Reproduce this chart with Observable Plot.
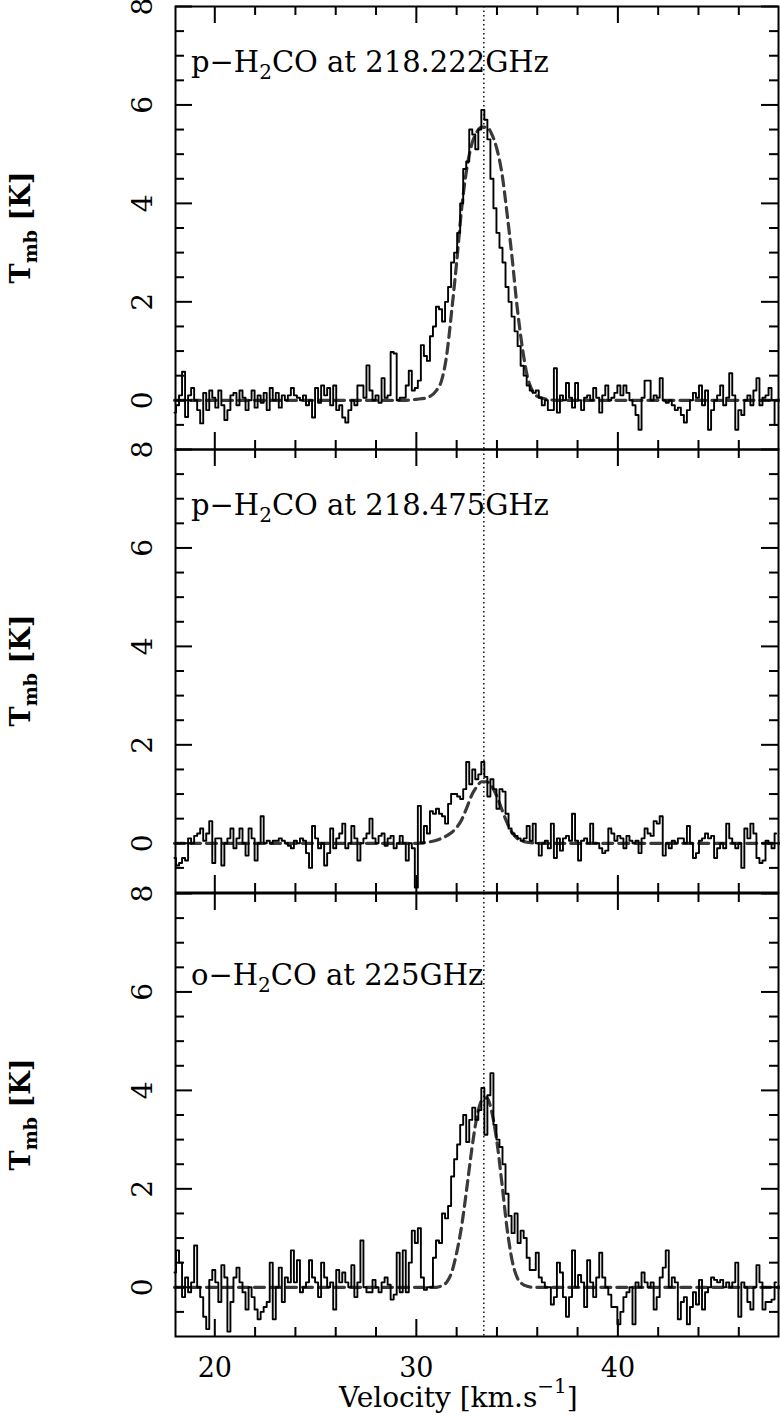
<!DOCTYPE html>
<html><head><meta charset="utf-8">
<script src="https://cdn.jsdelivr.net/npm/d3@7"></script>
<script src="https://cdn.jsdelivr.net/npm/@observablehq/plot@0.6"></script>
<style>
body{margin:0;background:#fff;}
#chart{position:relative;width:780px;height:1419px;overflow:hidden;background:#fff;}
#chart svg{position:absolute;left:0;}
</style></head><body><div id="chart"></div>
<script>
// ---------- data ----------
const V0 = 18.0, DV = 0.15;   // first channel velocity and channel width (km/s)
const vLSR = 33.35;

const spec1 = [
 -0.25,-0.1,0.1,0.58,-0.34,0.1,0.25,0.0,-0.2,-0.47,
 0.15,-0.2,0.2,0.05,-0.15,0.2,-0.1,-0.4,-0.2,0.1,
 0.15,-0.1,0.2,0.05,-0.2,0.0,0.2,-0.15,0.1,-0.05,
 0.15,-0.2,0.25,0.0,0.15,-0.15,0.1,0.0,0.1,0.25,
 0.1,0.05,0.0,0.1,-0.1,0.0,-0.35,0.25,-0.05,0.3,
 0.1,0.25,-0.1,0.3,-0.2,-0.1,-0.35,-0.45,-0.2,0.0,
 -0.1,0.3,0.3,0.05,0.71,0.2,0.0,0.1,-0.05,0.45,
 0.05,0.1,0.98,0.95,0.0,0.05,0.05,0.3,0.6,0.2,
 0.25,0.4,1.12,0.9,0.8,1.3,1.5,1.9,1.85,1.6,
 2.0,2.3,2.8,3.0,3.4,4.0,4.7,4.85,5.5,5.4,
 5.1,5.5,5.9,5.7,5.3,4.5,3.9,3.4,3.1,2.8,
 2.3,2.0,1.7,1.4,1.1,0.7,0.5,0.3,0.2,0.15,
 0.2,0.05,-0.1,0.0,-0.2,-0.2,0.65,-0.25,0.1,0.0,
 0.35,0.05,-0.15,0.35,0.0,-0.2,0.05,0.1,0.0,0.25,
 0.05,-0.25,0.1,0.3,0.0,0.05,0.15,0.3,0.1,0.3,
 0.15,0.0,-0.1,-0.3,-0.6,0.05,0.4,0.4,0.0,0.1,
 0.05,0.45,0.0,-0.05,0.0,-0.1,-0.2,-0.15,-0.3,-0.45,
 -0.2,0.0,0.15,0.05,0.3,-0.1,0.2,-0.6,-0.2,0.0,
 0.1,0.3,-0.1,0.05,0.55,0.1,-0.6,-0.2,-0.3,0.0,
 0.1,-0.1,0.2,0.45,-0.1,0.05,0.1,0.25,0.0,-0.5
];
const spec2 = [
 -0.3,-0.45,-0.4,-0.3,-0.35,0.1,0.0,0.15,0.2,0.3,
 0.05,0.2,0.45,-0.4,0.1,0.1,-0.45,0.0,0.1,0.3,
 -0.1,0.1,0.3,0.0,-0.25,0.3,0.1,-0.35,0.0,0.55,
 0.0,0.05,0.0,0.05,0.05,0.1,0.05,0.0,-0.05,-0.1,
 0.05,0.0,0.1,0.05,-0.2,-0.5,0.35,0.1,-0.1,0.0,
 -0.45,-0.2,0.3,-0.1,0.1,0.2,0.4,-0.1,0.0,0.35,
 0.1,-0.35,0.0,0.1,0.2,0.5,0.1,0.0,0.15,0.2,
 -0.05,0.1,0.15,-0.1,0.0,0.15,0.0,-0.35,0.0,-0.1,
 -0.9,0.76,0.0,0.35,0.2,0.65,0.6,0.7,0.6,0.55,
 0.4,0.8,1.0,1.0,0.95,0.9,1.1,1.65,1.2,1.5,
 1.3,1.4,1.65,1.35,0.95,1.3,1.1,0.7,1.1,1.05,
 0.6,0.3,0.2,0.15,0.1,0.05,0.1,0.35,0.05,0.4,
 0.0,-0.25,0.0,0.05,-0.1,0.4,-0.3,0.1,-0.15,0.1,
 0.15,0.05,0.6,0.05,-0.35,0.05,0.1,0.0,0.4,0.0,
 0.0,-0.1,-0.2,-0.15,0.3,0.2,0.05,0.15,0.1,-0.1,
 0.15,0.05,0.0,0.05,-0.2,0.1,0.3,0.2,0.15,0.45,
 0.4,0.55,-0.25,0.0,-0.1,0.05,0.0,0.1,0.1,0.0,
 0.35,0.0,-0.3,-0.2,0.05,0.1,0.2,0.1,0.15,-0.3,
 -0.1,0.0,-0.1,0.4,0.1,0.0,-0.1,0.0,-0.5,0.3,
 0.1,0.4,0.2,-0.3,-0.4,-0.35,0.05,0.0,-0.1,0.2
];
const spec3 = [
 0.3,0.75,0.5,-0.2,0.2,-0.1,0.1,0.85,0.0,-0.2,
 -0.6,-0.85,0.15,0.35,0.1,-0.3,0.45,0.2,-0.9,-0.3,
 0.2,0.4,0.1,-0.1,-0.45,0.0,-0.2,-0.45,-0.65,-0.5,
 -0.4,-0.3,0.5,-0.65,0.0,0.4,-0.3,0.2,0.1,0.75,
 0.1,0.55,-0.1,0.0,0.1,0.55,0.2,0.1,-0.2,0.5,
 0.2,0.0,0.1,-0.45,0.35,0.1,0.3,0.1,0.0,0.45,
 -0.2,0.1,0.95,0.0,-0.1,-0.1,0.15,0.0,-0.1,0.1,
 0.2,0.05,-0.25,-0.15,0.7,-0.1,0.75,-0.1,0.5,1.15,
 0.9,1.2,0.2,-0.05,0.0,0.0,0.6,0.95,0.9,1.5,
 1.4,1.65,2.25,2.6,2.9,3.3,3.5,2.95,3.4,3.65,
 3.4,3.6,4.05,3.1,3.9,4.35,3.3,3.0,2.85,2.5,
 1.9,1.45,1.1,1.5,0.9,1.15,1.0,0.6,0.35,0.35,
 0.7,0.2,0.1,0.0,0.0,-0.35,-0.2,0.5,0.3,-0.2,
 -0.6,-0.2,0.75,0.0,0.25,0.1,-0.4,0.55,0.1,-0.2,
 0.2,0.7,0.2,0.0,-0.15,-0.4,-0.4,-0.75,-0.5,-0.2,
 -0.1,0.0,-0.75,0.1,0.0,0.3,0.1,0.0,0.1,-0.45,
 -0.2,0.2,0.4,0.75,0.0,0.2,0.1,-0.65,-0.3,-0.2,
 -0.75,-0.4,-0.1,-0.35,0.15,-0.45,-0.1,0.0,0.2,0.15,
 0.1,0.15,0.0,0.1,0.0,0.1,0.5,-0.6,0.1,0.0,
 -0.3,-0.45,0.0,0.45,0.1,-0.45,-0.3,-0.3,-0.25,0.1
];

// model (dashed) profiles
const modelV = [18,29.5,30,30.5,31,31.25,31.5,31.75,32,32.25,32.5,32.75,33,33.25,33.5,33.75,34,34.25,34.5,34.75,35,35.25,35.5,35.75,36,36.5,37,48];
const model1 = [0,0,0.02,0.05,0.2,0.4,0.9,1.8,2.8,3.9,4.7,5.2,5.45,5.55,5.55,5.4,5.1,4.6,3.8,2.9,1.9,1.1,0.5,0.2,0.08,0.02,0,0];
const model2 = [0,0,0,0.02,0.06,0.1,0.15,0.22,0.32,0.48,0.72,0.98,1.15,1.25,1.25,1.15,0.95,0.68,0.42,0.22,0.1,0.05,0.02,0.01,0,0,0,0];
const model3 = [0,0,0,0,0,0.03,0.1,0.3,0.7,1.25,2.0,2.8,3.45,3.8,3.85,3.55,2.95,2.1,1.2,0.55,0.2,0.07,0.02,0,0,0,0,0];

const titles = [
  ["p−H","2","CO at 218.222GHz"],
  ["p−H","2","CO at 218.475GHz"],
  ["o−H","2","CO at 225GHz"]
];
const yTicks = [0,2,4,6,8];
const yMinor = [-0.5,0.5,1,1.5,2.5,3,3.5,4.5,5,5.5,6.5,7,7.5];
const xTicks = [20,30,40];
const xMinor = [22,24,26,28,32,34,36,38,42,44,46];

// ---------- layout ----------
const W = 780, ML = 175, MR = 2, FH = 443, PAD = 24, PW = W - ML - MR;
const tops = [6.4, 449.4, 893];
const titleDy = [66, 66, 92];
const MAJ = 17, MIN = 9;
const font = "'DejaVu Serif','Liberation Serif',serif";
const chart = document.getElementById("chart");
const spectra = [spec1, spec2, spec3];
const models = [model1, model2, model3];

spectra.forEach((spec, k) => {
  const last = k === 2;
  const mt = PAD;
  const mb = last ? 1419 - (tops[2] + FH) : PAD;
  const H = mt + FH + mb;
  const specData = spec.map((t, i) => ({v: V0 + i * DV, t}));
  const modelData = modelV.map((v, i) => ({v, t: models[k][i]}));
  const tickStyle = {strokeWidth: 2, stroke: "black"};
  const marks = [
    Plot.ruleX([vLSR], {stroke: "black", strokeWidth: 1.4, strokeDasharray: "1.5,3"}),
    Plot.line(modelData, {x: "v", y: "t", curve: "monotone-x", stroke: "#3a3a3a", strokeWidth: 3.2, strokeDasharray: "10,6"}),
    Plot.line(specData, {x: "v", y: "t", curve: "step", stroke: "black", strokeWidth: 1.9}),
    Plot.tickY(yTicks, {y: d => d, insetRight: PW - MAJ, ...tickStyle}),
    Plot.tickY(yTicks, {y: d => d, insetLeft: PW - MAJ, ...tickStyle}),
    Plot.tickY(yMinor, {y: d => d, insetRight: PW - MIN, ...tickStyle}),
    Plot.tickY(yMinor, {y: d => d, insetLeft: PW - MIN, ...tickStyle}),
    Plot.tickX(xTicks, {x: d => d, insetBottom: FH - MAJ, ...tickStyle}),
    Plot.tickX(xTicks, {x: d => d, insetTop: FH - MAJ, ...tickStyle}),
    Plot.tickX(xMinor, {x: d => d, insetBottom: FH - MIN, ...tickStyle}),
    Plot.tickX(xMinor, {x: d => d, insetTop: FH - MIN, ...tickStyle}),
    Plot.frame({stroke: "black", strokeWidth: 2}),
    Plot.text(yTicks, {y: d => d, text: d => String(d), frameAnchor: "left", dx: -24, rotate: -90,
      textAnchor: "middle", lineAnchor: "bottom", fontSize: 28, fontFamily: font, fill: "black"})
  ];
  if (last) {
    marks.push(Plot.text(xTicks, {x: d => d, text: d => String(d), frameAnchor: "bottom", dy: 40,
      lineAnchor: "bottom", fontSize: 27, fontFamily: font, fill: "black"}));
  }
  const svg = Plot.plot({
    width: W, height: H,
    marginLeft: ML, marginRight: MR, marginTop: mt, marginBottom: mb,
    x: {domain: [18.05, 47.97], axis: null},
    y: {domain: [-1, 8], axis: null},
    style: {background: "transparent", overflow: "visible"},
    marks
  });
  svg.style.top = (tops[k] - mt) + "px";
  const g = d3.select(svg);
  // panel title
  const t = titles[k];
  const tt = g.append("text").attr("x", ML + 16).attr("y", mt + titleDy[k])
    .attr("text-anchor", "start")
    .attr("font-family", font).attr("font-size", 29).attr("fill", "black");
  tt.append("tspan").text(t[0]);
  tt.append("tspan").attr("font-size", 20).attr("dy", 7).text(t[1]);
  tt.append("tspan").attr("dy", -7).text(t[2]);
  // y label
  const yl = g.append("text").attr("transform", `translate(30,${mt + FH / 2}) rotate(-90)`)
    .attr("text-anchor", "middle").attr("font-family", font).attr("font-size", 27)
    .attr("font-weight", "bold").attr("fill", "black");
  yl.append("tspan").text("T");
  yl.append("tspan").attr("font-size", 19).attr("dy", 7).text("mb");
  yl.append("tspan").attr("dy", -7).text(" [K]");
  if (last) {
    const xl = g.append("text").attr("x", 339).attr("y", 1407 - (tops[2] - mt))
      .attr("text-anchor", "start")
      .attr("font-family", font).attr("font-size", 28).attr("fill", "black");
    xl.append("tspan").text("Velocity [km.s");
    xl.append("tspan").attr("font-size", 20).attr("dy", -14).text("−1");
    xl.append("tspan").attr("dy", 14).text("]");
  }
  chart.appendChild(svg);
});
</script>
</body></html>
